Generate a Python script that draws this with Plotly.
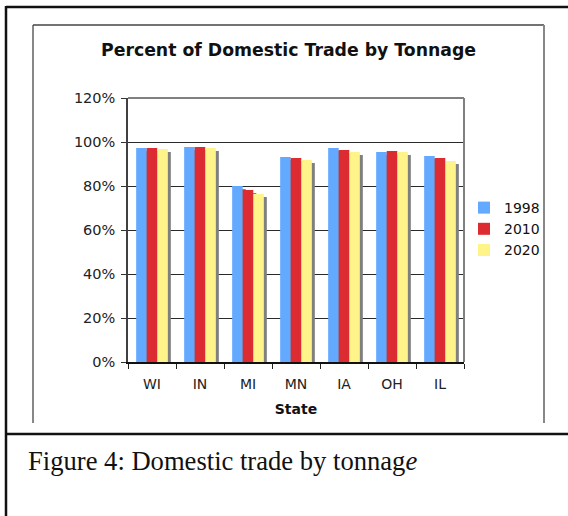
import plotly.graph_objects as go

states = ["WI", "IN", "MI", "MN", "IA", "OH", "IL"]
series_names = ["1998", "2010", "2020"]
vals_1998 = [97.3, 97.7, 80.0, 93.2, 97.3, 95.5, 93.6]
vals_2010 = [97.3, 97.7, 78.2, 92.7, 96.4, 95.9, 92.7]
vals_2020 = [96.8, 97.3, 76.4, 91.8, 95.5, 95.5, 91.4]
colors = ["#63A9FF", "#DC2B31", "#FFF48A"]
y_ticks = [0, 20, 40, 60, 80, 100, 120]
y_ticklabels = ["0%", "20%", "40%", "60%", "80%", "100%", "120%"]

W, H = 568, 516
L, R, T, B = 128, 464, 98, 362


def px(x):
    return (x - L) / (R - L)


def py(y):
    return (B - y) / (B - T)


series = [vals_1998, vals_2010, vals_2020]
fig = go.Figure()

# shadows (base axes, hidden)
for name, v in zip(series_names, series):
    fig.add_trace(go.Bar(x=states, y=v, marker=dict(color="#808080", line=dict(width=0)),
                         showlegend=False, hoverinfo="skip", xaxis="x", yaxis="y"))
# real bars (overlay axes, visible)
for name, v, c in zip(series_names, series, colors):
    fig.add_trace(go.Bar(x=states, y=v, name=name, marker=dict(color=c, line=dict(width=0)),
                         xaxis="x2", yaxis="y2"))

cat_px = (R - L) / len(states)
dx = 3 / cat_px
dy = 3 / ((B - T) / 120.0)

fig.update_layout(
    width=W, height=H,
    margin=dict(l=L, r=W - R, t=T, b=H - B, pad=0),
    paper_bgcolor="white", plot_bgcolor="white",
    barmode="group", bargap=0.34, bargroupgap=0,
    font=dict(family="DejaVu Sans", size=14, color="#222"),
    xaxis=dict(visible=False, range=[-0.5 - dx, len(states) - 0.5 - dx]),
    yaxis=dict(visible=False, range=[dy, 120 + dy]),
    xaxis2=dict(overlaying="x", anchor="y2", range=[-0.5, len(states) - 0.5],
                tickson="boundaries", ticks="outside", ticklen=5, tickcolor="#222",
                showline=True, linecolor="#111", linewidth=1.5, showgrid=False,
                ticklabelstandoff=8,
                title=dict(text="<b>State</b>", font=dict(size=14, color="#111"), standoff=14)),
    yaxis2=dict(overlaying="y", anchor="x2", range=[0, 120], tickvals=y_ticks,
                ticktext=y_ticklabels, ticks="outside", ticklen=5, tickcolor="#333",
                tickfont=dict(size=14.5), ticklabelstandoff=3,
                showline=True, linecolor="#404040", linewidth=1.5,
                showgrid=True, gridcolor="#2a2a2a", gridwidth=1.2, zeroline=False),
    legend=dict(x=px(464), y=py(192), xanchor="left", yanchor="top",
                font=dict(size=14, color="#111"), bgcolor="rgba(0,0,0,0)",
                itemwidth=30, tracegroupgap=0),
    showlegend=True,
)

line_black = dict(color="#111", width=2.5)
shapes = [
    # outer border
    dict(type="line", xref="paper", yref="paper", x0=px(6), y0=py(7), x1=px(575), y1=py(7), line=line_black),
    dict(type="line", xref="paper", yref="paper", x0=px(6), y0=py(6), x1=px(6), y1=py(525), line=line_black),
    # separator
    dict(type="line", xref="paper", yref="paper", x0=px(6), y0=py(434), x1=px(575), y1=py(434), line=line_black),
    # inner chart box
    dict(type="line", xref="paper", yref="paper", x0=px(33), y0=py(25), x1=px(33), y1=py(423), line=dict(color="#111", width=1)),
    dict(type="line", xref="paper", yref="paper", x0=px(33), y0=py(25), x1=px(544), y1=py(25), line=dict(color="#444", width=1.5)),
    dict(type="line", xref="paper", yref="paper", x0=px(544), y0=py(25), x1=px(544), y1=py(423), line=dict(color="#888", width=2)),
    # plot-area border top/right
    dict(type="line", xref="paper", yref="paper", x0=0, y0=1, x1=1, y1=1, line=dict(color="#808080", width=2)),
    dict(type="line", xref="paper", yref="paper", x0=1, y0=0, x1=1, y1=1, line=dict(color="#808080", width=2)),
]
fig.update_layout(shapes=shapes)

fig.add_annotation(text="<b>Percent of Domestic Trade by Tonnage</b>", xref="paper", yref="paper",
                   x=px(288.5), y=py(50), xanchor="center", yanchor="middle", showarrow=False,
                   font=dict(family="DejaVu Sans", size=17.3, color="#111"))
fig.add_annotation(text="Figure 4: Domestic trade by tonnag<i>e</i>", xref="paper", yref="paper",
                   x=px(26), y=py(461), xanchor="left", yanchor="middle", showarrow=False,
                   font=dict(family="Liberation Serif", size=26.6, color="#111"))

fig.write_html("out.html", config={"displayModeBar": False},
               post_script="document.body.style.margin='0';document.body.style.overflow='hidden';")
